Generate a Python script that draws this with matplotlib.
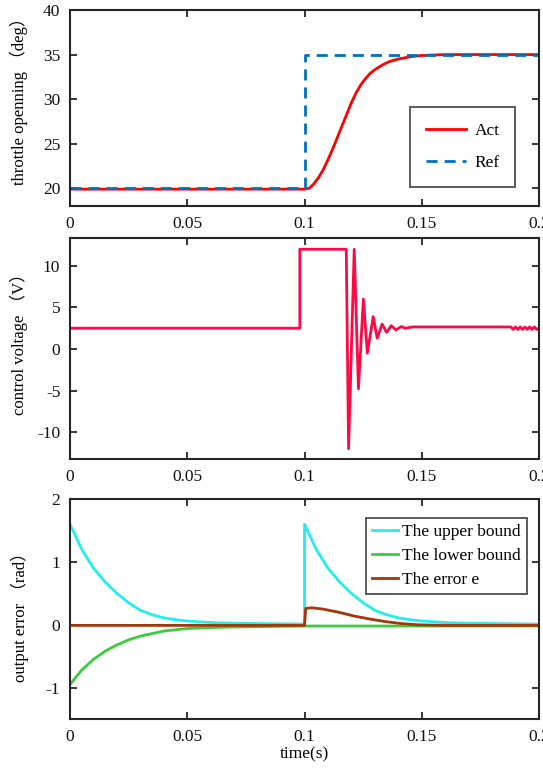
import matplotlib
matplotlib.use("Agg")
import matplotlib.pyplot as plt

plt.rcParams['font.family'] = ['Liberation Serif', 'Noto Sans CJK SC']
plt.rcParams['axes.unicode_minus'] = False

# ---- throttle opening (deg) ----
t_ref = [0.0, 0.1, 0.1, 0.2]
ref = [20.0, 20.0, 35.0, 35.0]
t_act = [0.0, 0.1, 0.102, 0.104, 0.106, 0.108, 0.11, 0.112, 0.114, 0.116, 0.118,
         0.12, 0.122, 0.124, 0.126, 0.128, 0.13, 0.133, 0.136, 0.14, 0.145,
         0.15, 0.16, 0.2]
act = [19.9, 19.9, 20.0, 20.5, 21.2, 22.1, 23.2, 24.4, 25.7, 27.0, 28.3,
       29.6, 30.7, 31.6, 32.3, 32.9, 33.3, 33.8, 34.2, 34.5, 34.75,
       34.9, 35.0, 35.0]

# ---- control voltage (V) ----
t_u = [0.0, 0.098, 0.098, 0.1178, 0.1188, 0.1212, 0.123, 0.1251, 0.1268,
       0.1293, 0.131, 0.1331, 0.135, 0.137, 0.139, 0.1413, 0.143, 0.146,
       0.188, 0.189, 0.190, 0.191, 0.192, 0.193, 0.194, 0.195, 0.196,
       0.197, 0.198, 0.199, 0.2]
u = [2.5, 2.5, 12.0, 12.0, -12.0, 12.0, -4.8, 6.0, -0.5,
     3.9, 1.3, 3.0, 2.0, 2.8, 2.3, 2.7, 2.5, 2.65,
     2.65, 2.35, 2.65, 2.35, 2.65, 2.35, 2.65, 2.35, 2.65,
     2.35, 2.65, 2.35, 2.5]

# ---- output error (rad) ----
t_bound = [0.0, 0.005, 0.01, 0.015, 0.02, 0.025, 0.03, 0.035, 0.04, 0.045,
           0.05, 0.06, 0.07, 0.08, 0.09, 0.1,
           0.1, 0.105, 0.11, 0.115, 0.12, 0.125, 0.13, 0.135, 0.14, 0.145,
           0.15, 0.16, 0.17, 0.18, 0.19, 0.2]
upper = [1.6, 1.2, 0.9, 0.68, 0.5, 0.35, 0.23, 0.16, 0.11, 0.08,
         0.06, 0.035, 0.025, 0.02, 0.015, 0.01,
         1.6, 1.2, 0.9, 0.68, 0.5, 0.35, 0.23, 0.16, 0.11, 0.08,
         0.06, 0.035, 0.025, 0.02, 0.015, 0.01]
t_low = [0.0, 0.005, 0.01, 0.015, 0.02, 0.025, 0.03, 0.035, 0.04, 0.045,
         0.05, 0.06, 0.07, 0.08, 0.09, 0.1, 0.2]
lower = [-0.95, -0.72, -0.55, -0.42, -0.32, -0.24, -0.18, -0.14, -0.1, -0.08,
         -0.06, -0.045, -0.035, -0.03, -0.025, -0.02, -0.02]
t_err = [0.0, 0.1, 0.1005, 0.103, 0.1078, 0.1145, 0.121, 0.128, 0.1346,
         0.141, 0.148, 0.16, 0.2]
err = [-0.01, -0.01, 0.26, 0.27, 0.25, 0.2, 0.14, 0.09, 0.05,
       0.02, 0.0, -0.01, -0.01]

x_ticks = [0, 0.05, 0.1, 0.15, 0.2]
x_ticklabels = ['0', '0.05', '0.1', '0.15', '0.2']

fig = plt.figure(figsize=(5.43, 7.69), dpi=100)
left, width = 0.129, 0.8636
ax1 = fig.add_axes([left, 0.732, width, 0.255])
ax2 = fig.add_axes([left, 0.403, width, 0.288])
ax3 = fig.add_axes([left, 0.065, width, 0.286])

frame_col = '#262626'
for ax in (ax1, ax2, ax3):
    ax.set_xlim(0, 0.2)
    ax.set_xticks(x_ticks)
    ax.set_xticklabels(x_ticklabels)
    ax.tick_params(direction='in', top=True, right=True, length=5, width=1.3,
                   colors=frame_col, labelcolor='#111111', labelsize=12.5, pad=7)
    for s in ax.spines.values():
        s.set_linewidth(1.5)
        s.set_color(frame_col)

# throttle
ax1.plot(t_act, act, color='#FF0000', lw=2.0, label='Act')
ax1.plot(t_ref, ref, color='#0072BD', lw=2.0, ls=(0, (4, 2.5)), label='Ref')
ax1.set_ylim(18, 40)
ax1.set_yticks([20, 25, 30, 35, 40])
ax1.set_ylabel('throttle openning （deg）', fontsize=12)
ax1.yaxis.set_label_coords(-0.09, 0.553)
leg1 = ax1.legend(loc='upper right', bbox_to_anchor=(0.968, 0.55), fontsize=12.5,
                  frameon=True, fancybox=False, edgecolor='#222222',
                  handlelength=2.3, handletextpad=0.5, labelspacing=0.95,
                  borderpad=0.9)
leg1.get_frame().set_linewidth(1.3)

# control voltage
ax2.plot(t_u, u, color='#FF0845', lw=2.0)
ax2.set_ylim(-13.25, 13.4)
ax2.set_yticks([-10, -5, 0, 5, 10])
ax2.set_ylabel('control voltage （V）', fontsize=12)
ax2.yaxis.set_label_coords(-0.09, 0.537)

# output error
ax3.plot(t_bound, upper, color='#22EEEE', lw=2.0, label='The upper bound')
ax3.plot(t_low, lower, color='#3CCB3C', lw=2.0, label='The lower bound')
ax3.plot(t_err, err, color='#A3360C', lw=2.0, label='The error e')
ax3.set_ylim(-1.5, 2)
ax3.set_yticks([-1, 0, 1, 2])
ax3.set_ylabel('output error （rad）', fontsize=12)
ax3.yaxis.set_label_coords(-0.088, 0.48)
ax3.set_xlabel('time(s)', fontsize=12.5, labelpad=1)
leg3 = ax3.legend(loc='upper right', bbox_to_anchor=(0.992, 0.955), fontsize=12.5,
                  frameon=True, fancybox=False, edgecolor='#222222',
                  handlelength=1.5, handletextpad=0.2, labelspacing=0.45,
                  borderpad=0.35)
leg3.get_frame().set_linewidth(1.3)

fig.savefig('out.png', dpi=100)
